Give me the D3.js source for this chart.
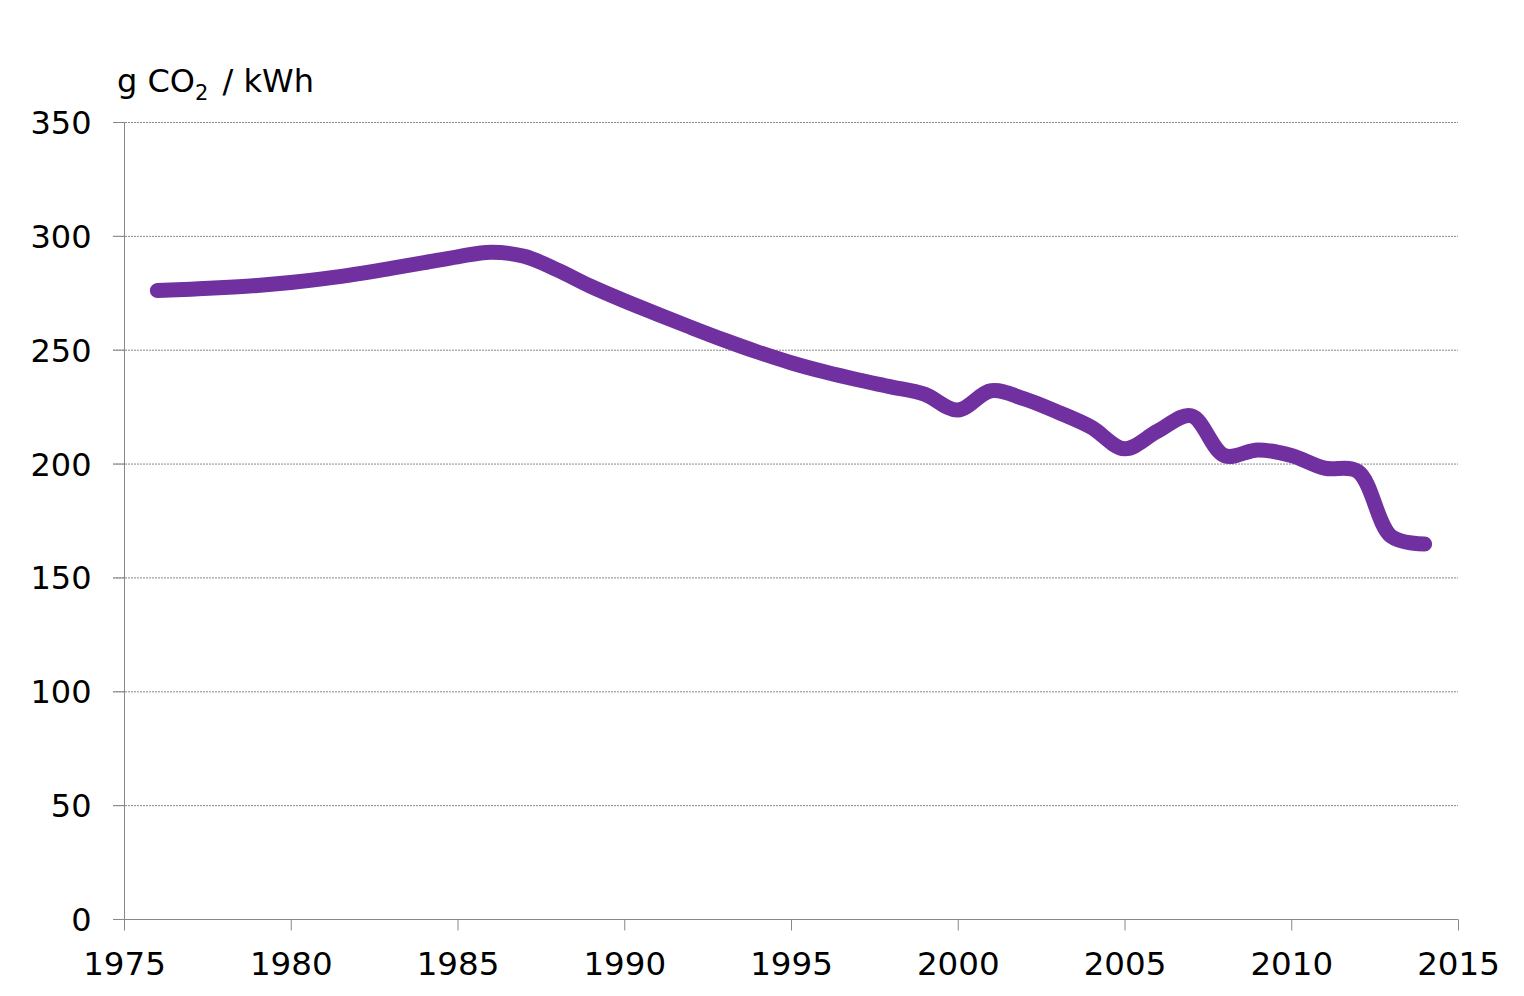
<!DOCTYPE html>
<html><head><meta charset="utf-8">
<script src="https://cdn.jsdelivr.net/npm/d3@7"></script>
<style>body{margin:0;background:#fff}svg text{font-family:"DejaVu Sans",Verdana,sans-serif;fill:#000}</style>
</head><body><svg id="c" width="1524" height="996"></svg>
<script>
const years = [1976,1977,1978,1979,1980,1981,1982,1983,1984,1985,1986,1987,1988,1989,1990,1991,1992,1993,1994,1995,1996,1997,1998,1999,2000,2001,2002,2003,2004,2005,2006,2007,2008,2009,2010,2011,2012,2013,2014];
const values = [276,276.6,277.3,278.2,279.5,281.2,283.3,285.7,288.2,290.8,292.8,291,285,277.8,271.5,265.6,259.8,254.2,249,244.3,240.3,236.8,233.7,230.5,223.5,232,228.4,222.6,216,206.5,214.3,221,203.5,206,203.5,198,196.5,168,164.7];
const yTicks = [0,50,100,150,200,250,300,350];
const xTicks = [1975,1980,1985,1990,1995,2000,2005,2010,2015];

const svg = d3.select("#c");
const x = d3.scaleLinear().domain([1975,2015]).range([124,1458]);
const y = d3.scaleLinear().domain([0,350]).range([919,122]);

// grid
svg.append("g").selectAll("line").data(yTicks.filter(d=>d>0)).join("line")
  .attr("x1",113).attr("x2",1458).attr("y1",d=>y(d)+0.5).attr("y2",d=>y(d)+0.5)
  .attr("stroke","#888").attr("stroke-width",1).attr("stroke-dasharray","2,1");
// y axis
const yAxis = svg.append("g").attr("transform","translate(124.5,0)")
  .call(d3.axisLeft(y).tickValues(yTicks).tickSize(11).tickPadding(22));
yAxis.select(".domain").attr("stroke","#888").attr("d",`M0,${y(350)}V${y(0)}`);
yAxis.selectAll(".tick line").attr("stroke","#888");
yAxis.selectAll(".tick text").attr("font-size",32).attr("dy","0.36em");
// x axis
const xAxis = svg.append("g").attr("transform","translate(0,919.5)")
  .call(d3.axisBottom(x).tickValues(xTicks).tickFormat(d3.format("d")).tickSize(11).tickPadding(21));
xAxis.select(".domain").attr("stroke","#888").attr("d",`M113,0H1458`);
xAxis.selectAll(".tick line").attr("stroke","#888");
xAxis.selectAll(".tick text").attr("font-size",32.5);

// line
svg.append("path").datum(years.map((yr,i)=>[yr,values[i]]))
  .attr("fill","none").attr("stroke","#7030A0").attr("stroke-width",15)
  .attr("stroke-linecap","round").attr("stroke-linejoin","round")
  .attr("d",d3.line().x(d=>x(d[0])).y(d=>y(d[1])).curve(d3.curveCatmullRom.alpha(0.5)));

// unit label
const t = svg.append("text").attr("x",117).attr("y",92).attr("font-size",32);
t.append("tspan").text("g CO");
t.append("tspan").text("2").attr("font-size",21).attr("dy",8);
t.append("tspan").text(" / kWh").attr("dy",-8).attr("dx",4);
</script></body></html>
